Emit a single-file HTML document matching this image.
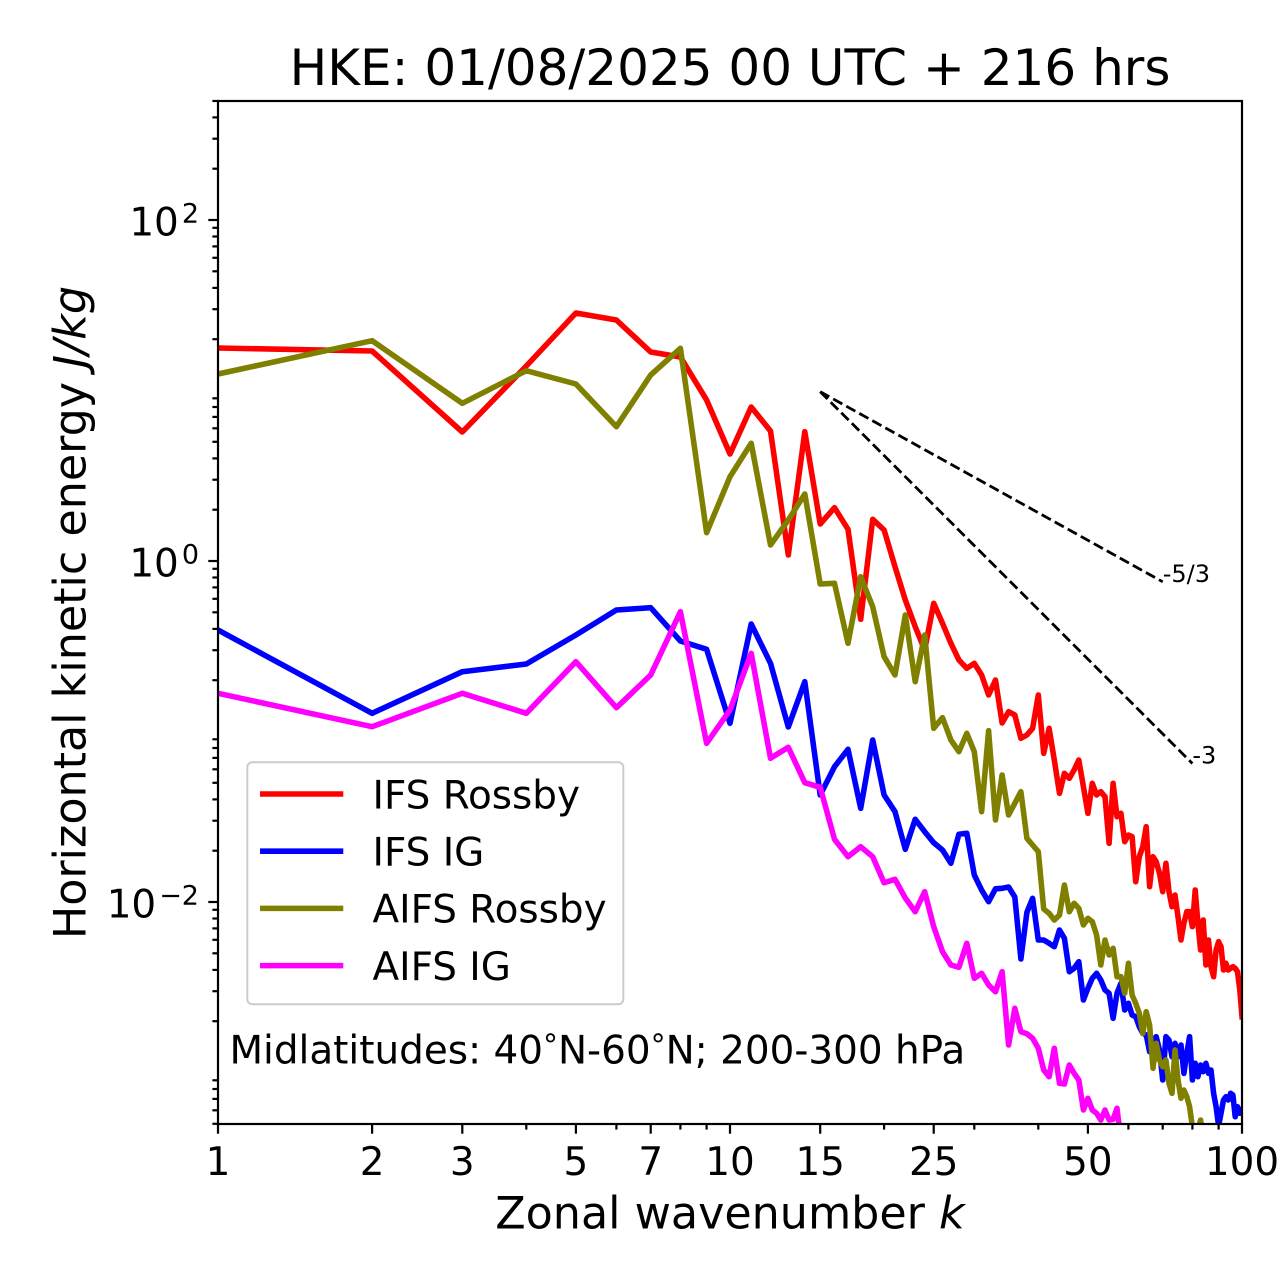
<!DOCTYPE html>
<html>
<head>
<meta charset="utf-8">
<style>
html,body{margin:0;padding:0;background:#fff;}
svg{display:block;}
text{font-family:"DejaVu Sans","Liberation Sans",sans-serif;fill:#000;}
</style>
</head>
<body>
<svg width="1280" height="1288" viewBox="0 0 1280 1288" xmlns="http://www.w3.org/2000/svg">
<defs>
<clipPath id="ax"><rect x="218" y="101" width="1024" height="1023"/></clipPath>
</defs>
<rect x="0" y="0" width="1280" height="1288" fill="#fff"/>

<text x="730" y="85" font-size="50" text-anchor="middle">HKE: 01/08/2025 00 UTC + 216 hrs</text>

<g clip-path="url(#ax)" fill="none" stroke-width="5.56" stroke-linejoin="round" stroke-linecap="square">
<polyline stroke="#ff0000" points="218,348 372.1,351 462.3,432 526.3,366 575.9,313 616.4,320 650.7,352 680.4,357 706.6,400 730,454 751.2,407 770.5,431 788.3,555 804.8,431.7 820.2,524 834.5,507.7 848,529.3 860.7,619.3 872.7,519.3 884.1,530 895,566.7 905.3,600 915.2,626.7 924.7,650 933.7,603.3 942.5,623.3 950.9,643.3 958.9,660 966.8,668.3 974.3,663.3 981.6,675 988.6,695 995.5,680 1002.1,723 1008.6,711.7 1014.8,715 1020.9,738.3 1026.9,735 1032.6,728.3 1038.3,695 1043.7,753.3 1049.1,728.3 1054.3,760 1059.5,793.3 1064.4,773.3 1069.3,778.3 1074.1,770 1078.8,760 1083.4,786.7 1087.9,813.3 1092.3,783.3 1096.6,795 1100.8,791.7 1105,796.7 1109.1,843.3 1113.1,783.3 1117,816.7 1120.9,813.3 1124.7,841.7 1128.4,835 1132.1,836.7 1135.7,881.7 1139.3,856.7 1142.8,846.7 1146.2,826.7 1149.6,886.7 1153,856.7 1156.2,861.7 1159.5,873.3 1162.7,891.7 1165.9,863.3 1169,891.7 1172,906.7 1175,895 1178,916.7 1181,940 1183.9,923.3 1186.8,911.7 1189.6,911.7 1192.4,926.7 1195.2,890 1197.9,923.3 1200.6,950 1203.2,920 1205.9,965 1208.5,940 1211,966.7 1213.6,976.7 1216.1,950 1218.6,941.7 1221,946.7 1223.5,970 1225.9,963.3 1228.2,970 1230.6,968.3 1232.9,966.7 1235.2,968.3 1237.5,971.7 1239.8,990 1242,1016.7"/>
<polyline stroke="#0000ff" points="218,630 372.1,713.3 462.3,671.7 526.3,664 575.9,635 616.4,610 650.7,607.7 680.4,641 706.6,649.3 730,723.3 751.2,624 770.5,663.3 788.3,727 804.8,681.7 820.2,795 834.5,766.7 848,749.3 860.7,808.3 872.7,740 884.1,795 895,811.7 905.3,849.3 915.2,819.3 924.7,831.7 933.7,842.7 942.5,850 950.9,863.3 958.9,834.3 966.8,833.3 974.3,875 981.6,890 988.6,901.7 995.5,888.8 1002.1,888.3 1008.6,887 1014.8,897 1020.9,959 1026.9,912.3 1032.6,898.3 1038.3,940 1043.7,940 1049.1,943.3 1054.3,946.7 1059.5,930 1064.4,938.3 1069.3,971.7 1074.1,968.3 1078.8,961.7 1083.4,1000 1087.9,988.3 1092.3,978.3 1096.6,973.3 1100.8,980 1105,990 1109.1,993.3 1113.1,1018.3 1117,993.3 1120.9,983.3 1124.7,1010 1128.4,1003.3 1132.1,1015 1135.7,1016.7 1139.3,1026.7 1142.8,1033.3 1146.2,1035 1149.6,1051.7 1153,1040 1156.2,1036.7 1159.5,1050 1162.7,1080 1165.9,1036.7 1169,1040 1172,1056.7 1175,1043.3 1178,1056.7 1181,1045 1183.9,1073.3 1186.8,1053.3 1189.6,1036.7 1192.4,1080 1195.2,1063.3 1197.9,1076.7 1200.6,1065 1203.2,1071.7 1205.9,1063.3 1208.5,1073.3 1211,1070 1213.6,1093.3 1216.1,1106.7 1218.6,1126 1221,1113.3 1223.5,1100 1225.9,1096.7 1228.2,1100 1230.6,1093.3 1232.9,1095 1235.2,1116.7 1237.5,1106.7 1239.8,1113.3 1242,1110"/>
<polyline stroke="#808000" points="218,374 372.1,340.7 462.3,403.3 526.3,370.7 575.9,384 616.4,426.7 650.7,375 680.4,348.3 706.6,532.7 730,476.7 751.2,443.3 770.5,545 788.3,520 804.8,494 820.2,584 834.5,583.3 848,643.3 860.7,576.7 872.7,606.7 884.1,656.7 895,675 905.3,615 915.2,681.7 924.7,635 933.7,728.3 942.5,717.7 950.9,740 958.9,751.7 966.8,733.3 974.3,751.7 981.6,811.7 988.6,730.7 995.5,820 1002.1,775 1008.6,815 1014.8,803.3 1020.9,791.7 1026.9,838.3 1032.6,845 1038.3,851.7 1043.7,909 1049.1,913.3 1054.3,920 1059.5,915 1064.4,885 1069.3,911.7 1074.1,903.3 1078.8,908.3 1083.4,925 1087.9,918.3 1092.3,921.7 1096.6,935 1100.8,965 1105,940 1109.1,955 1113.1,948.3 1117,976.7 1120.9,976.7 1124.7,993.3 1128.4,963.3 1132.1,995 1135.7,1003.3 1139.3,1013.3 1142.8,1033.3 1146.2,1011.7 1149.6,1025 1153,1068.3 1156.2,1043.3 1159.5,1060 1162.7,1066.7 1165.9,1060 1169,1083.3 1172,1093.3 1175,1050 1178,1080 1181,1098.3 1183.9,1090 1186.8,1096.7 1189.6,1106.7 1192.4,1127 1195.2,1135 1197.9,1130 1200.6,1120 1203.2,1140 1205.9,1150"/>
<polyline stroke="#ff00ff" points="218,693.3 372.1,726.7 462.3,693.3 526.3,713.3 575.9,661.7 616.4,707.7 650.7,675 680.4,611.7 706.6,743.3 730,710 751.2,653.3 770.5,758.3 788.3,747.3 804.8,782.7 820.2,787.3 834.5,839.3 848,856.7 860.7,846.7 872.7,856.7 884.1,882.7 895,879.3 905.3,898 915.2,911.7 924.7,891.7 933.7,926.7 942.5,951.7 950.9,965 958.9,967.3 966.8,943.3 974.3,978.3 981.6,973.3 988.6,985 995.5,991.7 1002.1,971.7 1008.6,1045 1014.8,1008.3 1020.9,1031.7 1026.9,1033.7 1032.6,1038.3 1038.3,1048.3 1043.7,1070 1049.1,1076.7 1054.3,1048.3 1059.5,1083.3 1064.4,1084 1069.3,1065 1074.1,1073.3 1078.8,1080 1083.4,1110 1087.9,1098.3 1092.3,1110 1096.6,1113.3 1100.8,1120 1105,1110 1109.1,1120 1113.1,1119.3 1117,1108.3 1120.9,1140"/>
</g>

<g stroke="#000" stroke-width="2.8" stroke-dasharray="10.4,4.5" fill="none">
<line x1="820.2" y1="391.7" x2="1162.7" y2="581.8"/>
<line x1="820.2" y1="391.7" x2="1192.4" y2="763.5"/>
</g>
<text x="1162.7" y="582" font-size="24">-5/3</text>
<text x="1192.4" y="763.5" font-size="24">-3</text>

<rect x="218" y="101" width="1024" height="1023" fill="none" stroke="#000" stroke-width="2.2"/>

<g stroke="#000" stroke-width="2.2">
<line x1="218" y1="1124" x2="218" y2="1133.7"/>
<line x1="372.1" y1="1124" x2="372.1" y2="1133.7"/>
<line x1="462.3" y1="1124" x2="462.3" y2="1133.7"/>
<line x1="575.9" y1="1124" x2="575.9" y2="1133.7"/>
<line x1="650.7" y1="1124" x2="650.7" y2="1133.7"/>
<line x1="730" y1="1124" x2="730" y2="1133.7"/>
<line x1="820.2" y1="1124" x2="820.2" y2="1133.7"/>
<line x1="933.7" y1="1124" x2="933.7" y2="1133.7"/>
<line x1="1087.9" y1="1124" x2="1087.9" y2="1133.7"/>
<line x1="1242" y1="1124" x2="1242" y2="1133.7"/>
<line x1="526.3" y1="1124" x2="526.3" y2="1129.6"/>
<line x1="616.4" y1="1124" x2="616.4" y2="1129.6"/>
<line x1="680.4" y1="1124" x2="680.4" y2="1129.6"/>
<line x1="706.6" y1="1124" x2="706.6" y2="1129.6"/>
<line x1="884.1" y1="1124" x2="884.1" y2="1129.6"/>
<line x1="974.3" y1="1124" x2="974.3" y2="1129.6"/>
<line x1="1038.3" y1="1124" x2="1038.3" y2="1129.6"/>
<line x1="1128.4" y1="1124" x2="1128.4" y2="1129.6"/>
<line x1="1162.7" y1="1124" x2="1162.7" y2="1129.6"/>
<line x1="1192.4" y1="1124" x2="1192.4" y2="1129.6"/>
<line x1="1218.6" y1="1124" x2="1218.6" y2="1129.6"/>
</g>

<g stroke="#000" stroke-width="2.2">
<line x1="208.3" y1="220" x2="218" y2="220"/>
<line x1="208.3" y1="561" x2="218" y2="561"/>
<line x1="208.3" y1="902" x2="218" y2="902"/>
<line x1="212.4" y1="168.7" x2="218" y2="168.7"/>
<line x1="212.4" y1="138.7" x2="218" y2="138.7"/>
<line x1="212.4" y1="117.4" x2="218" y2="117.4"/>
<line x1="212.4" y1="101" x2="218" y2="101"/>
<line x1="212.4" y1="339.2" x2="218" y2="339.2"/>
<line x1="212.4" y1="309.2" x2="218" y2="309.2"/>
<line x1="212.4" y1="287.9" x2="218" y2="287.9"/>
<line x1="212.4" y1="271.3" x2="218" y2="271.3"/>
<line x1="212.4" y1="257.8" x2="218" y2="257.8"/>
<line x1="212.4" y1="246.4" x2="218" y2="246.4"/>
<line x1="212.4" y1="236.5" x2="218" y2="236.5"/>
<line x1="212.4" y1="227.8" x2="218" y2="227.8"/>
<line x1="212.4" y1="509.7" x2="218" y2="509.7"/>
<line x1="212.4" y1="479.7" x2="218" y2="479.7"/>
<line x1="212.4" y1="458.4" x2="218" y2="458.4"/>
<line x1="212.4" y1="441.8" x2="218" y2="441.8"/>
<line x1="212.4" y1="428.3" x2="218" y2="428.3"/>
<line x1="212.4" y1="416.9" x2="218" y2="416.9"/>
<line x1="212.4" y1="407" x2="218" y2="407"/>
<line x1="212.4" y1="398.3" x2="218" y2="398.3"/>
<line x1="212.4" y1="680.2" x2="218" y2="680.2"/>
<line x1="212.4" y1="650.2" x2="218" y2="650.2"/>
<line x1="212.4" y1="628.9" x2="218" y2="628.9"/>
<line x1="212.4" y1="612.3" x2="218" y2="612.3"/>
<line x1="212.4" y1="598.8" x2="218" y2="598.8"/>
<line x1="212.4" y1="587.4" x2="218" y2="587.4"/>
<line x1="212.4" y1="577.5" x2="218" y2="577.5"/>
<line x1="212.4" y1="568.8" x2="218" y2="568.8"/>
<line x1="212.4" y1="850.7" x2="218" y2="850.7"/>
<line x1="212.4" y1="820.7" x2="218" y2="820.7"/>
<line x1="212.4" y1="799.4" x2="218" y2="799.4"/>
<line x1="212.4" y1="782.8" x2="218" y2="782.8"/>
<line x1="212.4" y1="769.3" x2="218" y2="769.3"/>
<line x1="212.4" y1="757.9" x2="218" y2="757.9"/>
<line x1="212.4" y1="748" x2="218" y2="748"/>
<line x1="212.4" y1="739.3" x2="218" y2="739.3"/>
<line x1="212.4" y1="1021.2" x2="218" y2="1021.2"/>
<line x1="212.4" y1="991.2" x2="218" y2="991.2"/>
<line x1="212.4" y1="969.9" x2="218" y2="969.9"/>
<line x1="212.4" y1="953.3" x2="218" y2="953.3"/>
<line x1="212.4" y1="939.8" x2="218" y2="939.8"/>
<line x1="212.4" y1="928.4" x2="218" y2="928.4"/>
<line x1="212.4" y1="918.5" x2="218" y2="918.5"/>
<line x1="212.4" y1="909.8" x2="218" y2="909.8"/>
<line x1="212.4" y1="1123.8" x2="218" y2="1123.8"/>
<line x1="212.4" y1="1110.3" x2="218" y2="1110.3"/>
<line x1="212.4" y1="1098.9" x2="218" y2="1098.9"/>
<line x1="212.4" y1="1089" x2="218" y2="1089"/>
<line x1="212.4" y1="1080.3" x2="218" y2="1080.3"/>
</g>

<g font-size="38.9" text-anchor="middle">
<text x="218" y="1175">1</text>
<text x="372.1" y="1175">2</text>
<text x="462.3" y="1175">3</text>
<text x="575.9" y="1175">5</text>
<text x="650.7" y="1175">7</text>
<text x="730" y="1175">10</text>
<text x="820.2" y="1175">15</text>
<text x="933.7" y="1175">25</text>
<text x="1087.9" y="1175">50</text>
<text x="1242" y="1175">100</text>
</g>

<g font-size="38.9" text-anchor="end">
<text x="199" y="235.7">10<tspan font-size="27" dx="3" dy="-13">2</tspan></text>
<text x="199" y="576.7">10<tspan font-size="27" dx="3" dy="-13">0</tspan></text>
<text x="199" y="917.7">10<tspan font-size="27" dx="3" dy="-13">−2</tspan></text>
</g>

<text x="730" y="1228.3" font-size="44.4" text-anchor="middle">Zonal wavenumber <tspan font-style="italic">k</tspan></text>
<text transform="translate(85.5,612.5) rotate(-90)" font-size="44.4" text-anchor="middle">Horizontal kinetic energy <tspan font-style="italic">J/kg</tspan></text>

<rect x="247.3" y="762.3" width="376" height="242" rx="5" ry="5" fill="#fff" fill-opacity="0.8" stroke="#cccccc" stroke-width="2"/>
<g stroke-width="5.56" stroke-linecap="square">
<line x1="262.8" y1="794" x2="340.5" y2="794" stroke="#ff0000"/>
<line x1="262.8" y1="851.2" x2="340.5" y2="851.2" stroke="#0000ff"/>
<line x1="262.8" y1="908.4" x2="340.5" y2="908.4" stroke="#808000"/>
<line x1="262.8" y1="965.6" x2="340.5" y2="965.6" stroke="#ff00ff"/>
</g>
<g font-size="38.9">
<text x="372.5" y="808.3">IFS Rossby</text>
<text x="372.5" y="865.5">IFS IG</text>
<text x="372.5" y="922.7">AIFS Rossby</text>
<text x="372.5" y="979.9">AIFS IG</text>
</g>

<text x="229.5" y="1063.3" font-size="38.9">Midlatitudes: 40<tspan font-size="30" dy="-8">°</tspan><tspan dy="8">N-60</tspan><tspan font-size="30" dy="-8">°</tspan><tspan dy="8">N; 200-300 hPa</tspan></text>
</svg>
</body>
</html>
